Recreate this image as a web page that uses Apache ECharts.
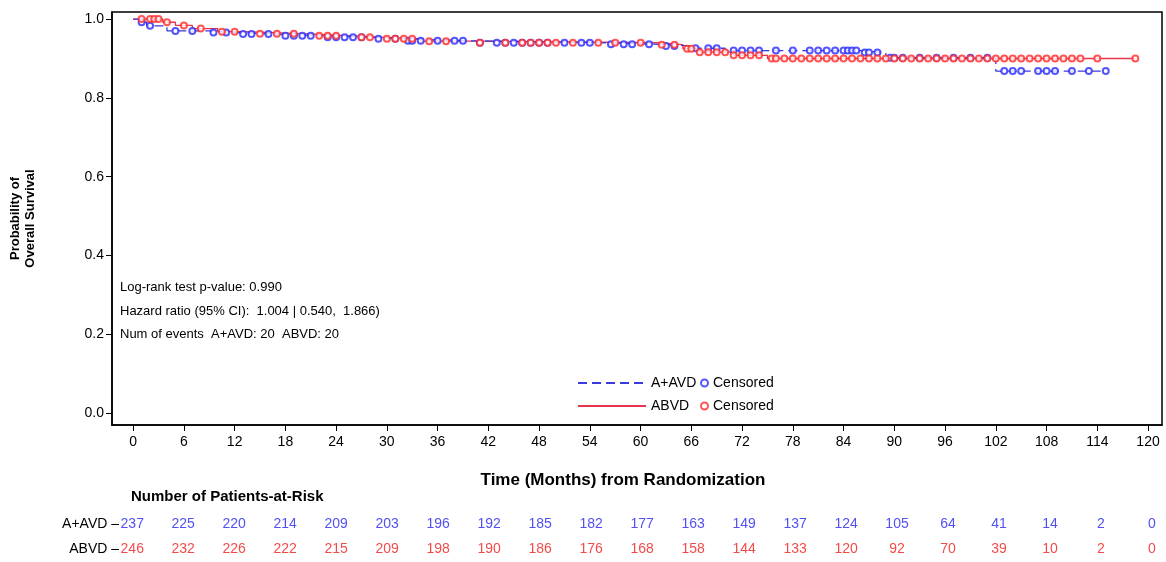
<!DOCTYPE html>
<html>
<head>
<meta charset="utf-8">
<script src="https://cdn.jsdelivr.net/npm/echarts@6/dist/echarts.min.js"></script>
<style>
  html, body { margin: 0; background: #fff; }
  #chart { width: 1166px; height: 562px; }
</style>
</head>
<body>
<div id="chart"></div>
<script>
// tick labels
const timeTicks = [0, 6, 12, 18, 24, 30, 36, 42, 48, 54, 60, 66, 72, 78, 84, 90, 96, 102, 108, 114, 120];
const probTicks = [0, 0.2, 0.4, 0.6, 0.8, 1.0];

// Kaplan-Meier steps [month, survival]
const aavdSteps = [[0, 1], [0.7, 0.992], [1.6, 0.983], [4, 0.97], [9, 0.966], [12, 0.962], [17, 0.958],
  [22, 0.954], [28, 0.95], [32, 0.945], [40, 0.94], [56, 0.936], [62, 0.932], [66, 0.926], [70, 0.92],
  [86, 0.915], [89, 0.902], [102, 0.868], [115, 0.868]];
const abvdSteps = [[0, 1], [3.5, 0.992], [5, 0.984], [7, 0.976], [10, 0.968], [13, 0.963], [20, 0.958],
  [25, 0.954], [29, 0.95], [34, 0.944], [40, 0.94], [62, 0.935], [65, 0.925], [67, 0.916], [71, 0.908],
  [75, 0.9], [118.5, 0.9]];

// censoring times (months)
const aavdCensored = [1, 2, 5, 7, 9.5, 11, 13, 14, 16, 18, 19, 20, 21, 23, 24, 25, 26, 27, 29, 31, 32.5, 33, 34,
  36, 38, 39, 41, 43, 44, 45, 46, 47, 48, 49, 51, 53, 54, 56.5, 58, 59, 61, 63, 64, 66.5, 68, 69, 71, 72, 73, 74,
  76, 78, 80, 81, 82, 83, 84, 84.5, 85, 85.5, 86.5, 87, 88, 89.5, 90, 91, 93, 95, 97, 99, 101, 103, 104, 105,
  107, 108, 109, 111, 113, 115];
const abvdCensored = [1, 2, 2.5, 3, 4, 6, 8, 10.5, 12, 15, 17, 19, 22, 23, 24, 27, 28, 30, 31, 32, 33, 35, 37,
  41, 44, 46, 47, 48, 49, 50, 52, 55, 57, 60, 62.5, 64, 65.5, 66, 67, 68, 69, 70, 71, 72, 73, 74, 75.5, 76, 77,
  78, 79, 80, 81, 82, 83, 84, 85, 86, 87, 88, 89, 90, 91, 92, 93, 94, 95, 96, 97, 98, 99, 100, 101, 102, 103,
  104, 105, 106, 107, 108, 109, 110, 111, 112, 114, 118.5];

// number at risk
const aavdAtRisk = [237, 225, 220, 214, 209, 203, 196, 192, 185, 182, 177, 163, 149, 137, 124, 105, 64, 41, 14, 2, 0];
const abvdAtRisk = [246, 232, 226, 222, 215, 209, 198, 190, 186, 176, 168, 158, 144, 133, 120, 92, 70, 39, 10, 2, 0];

const BLUE = '#3a3ae0';
const RED = '#e8344c';
const BLUE_TXT = '#2424f0';
const RED_TXT = '#f01c1c';
const FONT = 'Liberation Sans';

function survivalAt(steps, t) {
  let s = steps[0][1];
  for (const [tt, v] of steps) if (tt <= t) s = v;
  return s;
}

const chart = echarts.init(document.getElementById('chart'));

const option = {
  animation: false,
  textStyle: { fontFamily: FONT },
  grid: [
    { left: 107, right: 4, top: 12, bottom: 137, show: true, borderColor: '#000', borderWidth: 1.5 },
    { left: 107, right: 4, top: 512, height: 50 }
  ],
  xAxis: [
    {
      type: 'value', gridIndex: 0, min: -2.5, max: 121.65,
      name: 'Time (Months) from Randomization', nameLocation: 'middle', nameGap: 47,
      nameTextStyle: { fontSize: 17, fontWeight: 'bold', color: '#000', padding: [0, 28, 0, 0] },
      axisLine: { onZero: false, lineStyle: { color: '#000', width: 1.5 } },
      axisTick: { length: 6, customValues: timeTicks, lineStyle: { color: '#000' } },
      axisLabel: { customValues: timeTicks, fontSize: 14, color: '#000', margin: 10 },
      splitLine: { show: false }
    },
    {
      type: 'value', gridIndex: 1, min: -2.5, max: 121.65, show: false
    }
  ],
  yAxis: [
    {
      type: 'value', gridIndex: 0, min: -0.03, max: 1.018,
      name: 'Probability of\nOverall Survival', nameLocation: 'middle', nameGap: 74,
      nameTextStyle: { fontSize: 13, fontWeight: 'bold', color: '#000', lineHeight: 15 },
      axisLine: { show: true, onZero: false, lineStyle: { color: '#000', width: 1.5 } },
      axisTick: { show: true, length: 6, customValues: probTicks, lineStyle: { color: '#000' } },
      axisLabel: { customValues: probTicks, fontSize: 14, color: '#000', margin: 8,
        formatter: v => v.toFixed(1) },
      splitLine: { show: false }
    },
    {
      type: 'category', gridIndex: 1, inverse: true, data: ['A+AVD', 'ABVD'],
      axisLine: { show: false }, axisTick: { show: false },
      axisLabel: { fontSize: 14, color: '#000', margin: -12, formatter: v => v + ' \u2013' }
    }
  ],
  legend: [
    {
      orient: 'vertical', left: 572, top: 371, itemWidth: 68, itemHeight: 12, itemGap: 9,
      data: ['A+AVD', 'ABVD'],
      itemStyle: { opacity: 0 },
      textStyle: { fontSize: 14, color: '#000', fontFamily: FONT }
    },
    {
      orient: 'vertical', left: 695, top: 371, itemWidth: 7, itemHeight: 7, itemGap: 9,
      data: ['Censored', 'Censored '],
      formatter: () => 'Censored',
      textStyle: { fontSize: 14, color: '#000', fontFamily: FONT }
    }
  ],
  graphic: [
    {
      type: 'text', left: 120, top: 276,
      style: {
        text: 'Log-rank test p-value: 0.990\nHazard ratio (95% CI):  1.004 | 0.540,  1.866)\nNum of events  A+AVD: 20  ABVD: 20',
        font: '13px "Liberation Sans"', lineHeight: 23.5, fill: '#000'
      }
    },
    {
      type: 'text', left: 131, top: 489,
      style: { text: 'Number of Patients-at-Risk', font: 'bold 15px "Liberation Sans"', fill: '#000' }
    }
  ],
  series: [
    {
      name: 'A+AVD', type: 'line', step: 'end', symbol: 'none', data: aavdSteps,
      itemStyle: { color: BLUE },
      lineStyle: { color: BLUE, width: 1.3, type: [9, 5] }, z: 3
    },
    {
      name: 'ABVD', type: 'line', step: 'end', symbol: 'none', data: abvdSteps,
      itemStyle: { color: RED },
      lineStyle: { color: RED, width: 1.3 }, z: 2
    },
    {
      name: 'Censored', type: 'scatter', symbol: 'emptyCircle', symbolSize: 6,
      data: aavdCensored.map(t => [t, survivalAt(aavdSteps, t)]),
      itemStyle: { color: '#2b2bff', borderColor: '#2b2bff', borderWidth: 1.5 }, z: 4
    },
    {
      name: 'Censored ', type: 'scatter', symbol: 'emptyCircle', symbolSize: 6,
      data: abvdCensored.map(t => [t, survivalAt(abvdSteps, t)]),
      itemStyle: { color: '#ff2a2a', borderColor: '#ff2a2a', borderWidth: 1.5 }, z: 4
    },
    {
      type: 'scatter', xAxisIndex: 1, yAxisIndex: 1, symbolSize: 0, silent: true,
      data: timeTicks.map((t, i) => [t, 'A+AVD', aavdAtRisk[i]]),
      label: { show: true, position: 'inside', offset: [4, 0], formatter: p => p.value[2],
        fontSize: 14, color: BLUE_TXT, fontFamily: FONT }
    },
    {
      type: 'scatter', xAxisIndex: 1, yAxisIndex: 1, symbolSize: 0, silent: true,
      data: timeTicks.map((t, i) => [t, 'ABVD', abvdAtRisk[i]]),
      label: { show: true, position: 'inside', offset: [4, 0], formatter: p => p.value[2],
        fontSize: 14, color: RED_TXT, fontFamily: FONT }
    }
  ]
};

chart.setOption(option);
</script>
</body>
</html>
